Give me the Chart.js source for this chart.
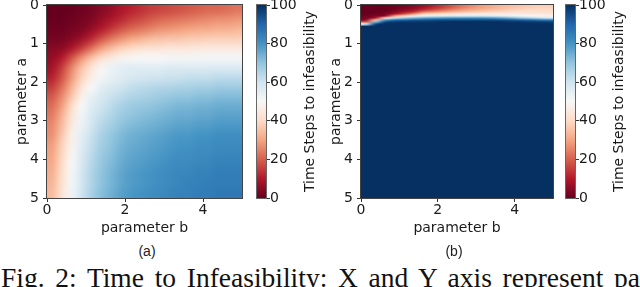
<!DOCTYPE html>
<html>
<head>
<meta charset="utf-8">
<script src="https://cdn.jsdelivr.net/npm/chart.js@4.4.0/dist/chart.umd.min.js"></script>
<style>
  body { margin: 0; background: #fff; width: 640px; height: 287px; overflow: hidden; position: relative; }
  canvas { position: absolute; }
  .sub { position: absolute; top: 243px; width: 40px; text-align: center; font: 14px/17px "Liberation Sans"; color: #222; }
  #cap { position: absolute; left: 1px; top: 264px; width: 639px; font: 27.5px/28px "Liberation Serif"; color: #111;
         text-align: justify; text-align-last: justify; white-space: nowrap; }
</style>
</head>
<body>
<canvas id="heatA" width="250" height="250" style="left:0;top:-10px"></canvas>
<canvas id="barA" width="80" height="250" style="left:250px;top:-10px"></canvas>
<canvas id="heatB" width="247" height="250" style="left:314px;top:-10px"></canvas>
<canvas id="barB" width="80" height="250" style="left:560px;top:-10px"></canvas>
<div class="sub" style="left:127px">(a)</div>
<div class="sub" style="left:434px">(b)</div>
<div id="cap">Fig. 2: Time to Infeasibility: X and Y axis represent pa</div>
<script>
// cell edges along parameter b (columns) and parameter a (rows)
const bEdges = [0, 0.25, 0.5, 0.75, 1, 1.25, 1.5, 1.75, 2, 2.25, 2.5, 2.75, 3, 3.25, 3.5, 3.75, 4, 4.25, 4.5, 4.75, 5];
const aEdgesA = [0, 0.25, 0.5, 0.75, 1, 1.25, 1.5, 1.75, 2, 2.25, 2.5, 2.75, 3, 3.25, 3.5, 3.75, 4, 4.25, 4.5, 4.75, 5];
const aEdgesB = [0, 0.05, 0.1, 0.15, 0.2, 0.25, 0.3, 0.35, 0.4, 0.45, 0.5, 0.55, 5];

// (a) time steps to infeasibility, one row per a-band
const stepsA = [
  [0, 0, 0, 1, 2, 4, 6, 9, 11, 13, 15, 16, 17, 18, 19, 20, 21, 21, 22, 23],
  [0, 0, 1, 2, 3, 6, 9, 12, 15, 17, 19, 21, 22, 23, 24, 25, 26, 27, 27, 28],
  [1, 1, 2, 3, 6, 10, 14, 18, 21, 23, 25, 27, 28, 29, 30, 31, 31, 32, 32, 33],
  [2, 2, 4, 7, 12, 18, 23, 27, 30, 32, 34, 35, 36, 36, 37, 37, 38, 38, 38, 38],
  [4, 5, 9, 15, 22, 29, 34, 38, 40, 42, 43, 43, 44, 44, 44, 45, 45, 45, 45, 45],
  [6, 10, 18, 27, 35, 41, 45, 48, 49, 50, 50, 50, 51, 51, 51, 51, 51, 51, 51, 51],
  [8, 15, 25, 35, 43, 49, 53, 55, 56, 56, 56, 56, 57, 57, 57, 57, 57, 57, 57, 57],
  [11, 18, 28, 38, 46, 51, 54, 56, 58, 59, 60, 60, 61, 61, 62, 62, 62, 63, 63, 63],
  [15, 22, 32, 43, 50, 55, 58, 60, 62, 63, 64, 65, 65, 66, 66, 67, 67, 68, 68, 68],
  [19, 26, 36, 47, 54, 58, 61, 63, 65, 66, 67, 68, 69, 70, 70, 71, 71, 72, 72, 72],
  [22, 29, 40, 50, 56, 60, 63, 66, 68, 69, 70, 71, 72, 73, 73, 74, 74, 75, 75, 75],
  [24, 32, 43, 52, 58, 62, 65, 68, 70, 71, 72, 73, 74, 75, 75, 76, 76, 77, 77, 77],
  [26, 34, 45, 53, 59, 64, 67, 70, 72, 73, 74, 75, 76, 77, 77, 78, 78, 79, 79, 79],
  [27, 36, 47, 55, 61, 66, 69, 72, 74, 75, 76, 77, 78, 79, 79, 80, 80, 81, 81, 81],
  [29, 38, 48, 56, 62, 67, 70, 73, 75, 76, 77, 78, 79, 80, 80, 81, 81, 82, 82, 82],
  [30, 39, 49, 57, 63, 68, 71, 74, 76, 77, 78, 79, 80, 81, 81, 82, 82, 83, 83, 83],
  [31, 40, 50, 58, 64, 69, 72, 75, 77, 78, 79, 80, 81, 82, 82, 83, 83, 84, 84, 84],
  [32, 41, 51, 59, 65, 70, 73, 76, 78, 79, 80, 81, 82, 83, 83, 84, 84, 85, 85, 85],
  [33, 42, 51, 59, 65, 70, 73, 76, 78, 79, 80, 81, 82, 83, 84, 84, 85, 85, 85, 85],
  [34, 43, 52, 60, 66, 71, 74, 77, 79, 80, 81, 82, 83, 84, 84, 85, 85, 86, 86, 86]
];

// (b) time steps to infeasibility, thin bands near a = 0 then the rest
const stepsB = [
  [0, 0, 0, 1, 2, 4, 7, 11, 15, 19, 23, 26, 29, 31, 33, 35, 36, 37, 38, 38],
  [0, 0, 0, 1, 3, 5, 9, 13, 17, 21, 25, 28, 30, 32, 34, 36, 37, 38, 39, 39],
  [0, 0, 0, 2, 5, 8, 14, 18, 22, 26, 29, 31, 33, 35, 36, 38, 39, 40, 40, 40],
  [0, 0, 1, 4, 9, 14, 24, 27, 30, 33, 35, 37, 38, 39, 40, 41, 42, 42, 42, 42],
  [0, 1, 2, 10, 18, 28, 38, 40, 42, 44, 45, 46, 46, 46, 46, 46, 46, 45, 45, 44],
  [1, 3, 6, 30, 40, 48, 54, 56, 57, 58, 58, 59, 59, 58, 56, 54, 52, 50, 49, 48],
  [2, 10, 40, 62, 68, 73, 76, 78, 79, 80, 80, 80, 80, 79, 77, 74, 70, 67, 63, 60],
  [5, 35, 78, 88, 90, 92, 93, 94, 95, 95, 95, 95, 95, 95, 94, 93, 91, 89, 86, 84],
  [20, 72, 96, 98, 99, 99, 99, 99, 100, 100, 100, 100, 100, 100, 100, 99, 99, 98, 98, 97],
  [55, 95, 100, 100, 100, 100, 100, 100, 100, 100, 100, 100, 100, 100, 100, 100, 100, 100, 100, 100],
  [90, 100, 100, 100, 100, 100, 100, 100, 100, 100, 100, 100, 100, 100, 100, 100, 100, 100, 100, 100],
  [100, 100, 100, 100, 100, 100, 100, 100, 100, 100, 100, 100, 100, 100, 100, 100, 100, 100, 100, 100]
];

const xTicks = [0, 2, 4];
const yTicks = [0, 1, 2, 3, 4, 5];
const cbTicks = [0, 20, 40, 60, 80, 100];

// RdBu colormap
const rdbu = ['#67001f', '#b2182b', '#d6604d', '#f4a582', '#fddbc7', '#f7f7f7',
              '#d1e5f0', '#92c5de', '#4393c3', '#2166ac', '#053061'];
const rgb = rdbu.map(h => [1, 3, 5].map(i => parseInt(h.substr(i, 2), 16)));

function colorFor(v) {
  const t = Math.max(0, Math.min(1, v / 100)) * 10;
  const i = Math.min(9, Math.floor(t));
  const f = t - i;
  return rgb[i].map((c0, k) => Math.round(c0 + (rgb[i + 1][k] - c0) * f));
}

const tickFont = { family: 'DejaVu Sans', size: 14, lineHeight: 1 };
const titleFont = { family: 'DejaVu Sans', size: 14, lineHeight: 1.2 };
const ink = '#1a1a1a';

// rows of equal height are drawn as one smoothed image, like imshow with bilinear interpolation
function heatPlugin(aEdges, rows) {
  return {
    id: 'heat',
    beforeDatasetsDraw(chart) {
      const { ctx, chartArea: area, scales: { x, y } } = chart;
      const x0 = x.getPixelForValue(bEdges[0]);
      const x1 = x.getPixelForValue(bEdges[bEdges.length - 1]);
      ctx.save();
      ctx.beginPath();
      ctx.rect(area.left, area.top, area.right - area.left, area.bottom - area.top);
      ctx.clip();
      ctx.imageSmoothingEnabled = true;
      ctx.imageSmoothingQuality = 'high';
      let start = 0;
      while (start < rows.length) {
        const h = aEdges[start + 1] - aEdges[start];
        let end = start + 1;
        while (end < rows.length && Math.abs(aEdges[end + 1] - aEdges[end] - h) < 1e-9) end++;
        const cols = rows[0].length;
        const off = document.createElement('canvas');
        off.width = cols;
        off.height = end - start;
        const octx = off.getContext('2d');
        const img = octx.createImageData(cols, end - start);
        for (let r = start; r < end; r++) {
          rows[r].forEach((v, j) => {
            const c = colorFor(v);
            const p = ((r - start) * cols + j) * 4;
            img.data[p] = c[0]; img.data[p + 1] = c[1]; img.data[p + 2] = c[2]; img.data[p + 3] = 255;
          });
        }
        octx.putImageData(img, 0, 0);
        const y0 = y.getPixelForValue(aEdges[start]);
        const y1 = y.getPixelForValue(aEdges[end]);
        ctx.drawImage(off, 0, 0, cols, end - start, x0, Math.floor(y0), x1 - x0, Math.ceil(y1) - Math.floor(y0));
        start = end;
      }
      ctx.restore();
    },
    afterDraw(chart) {
      const { ctx, chartArea: a } = chart;
      ctx.save();
      ctx.strokeStyle = '#444';
      ctx.lineWidth = 1;
      ctx.strokeRect(a.left - 0.5, a.top - 0.5, a.right - a.left + 1, a.bottom - a.top + 1);
      ctx.restore();
    }
  };
}

function heatChart(id, aEdges, rows) {
  return new Chart(document.getElementById(id), {
    type: 'scatter',
    data: { datasets: [] },
    options: {
      responsive: false,
      animation: false,
      events: [],
      layout: { padding: { left: 0, top: 15, right: 8, bottom: 0 } },
      plugins: { legend: { display: false }, tooltip: { enabled: false } },
      scales: {
        x: {
          type: 'linear', min: 0, max: 5,
          afterBuildTicks: s => { s.ticks = xTicks.map(v => ({ value: v })); },
          afterFit: s => { s.height = 42; s.paddingLeft = 0; s.paddingRight = 0; },
          grid: { drawOnChartArea: false, tickLength: 4, tickColor: '#333' },
          border: { display: false },
          ticks: { font: tickFont, color: ink, padding: 1, maxRotation: 0 },
          title: { display: true, text: 'parameter b', font: titleFont, color: ink, padding: { top: 0, bottom: 3.6 } }
        },
        y: {
          type: 'linear', min: 0, max: 5, reverse: true,
          afterBuildTicks: s => { s.ticks = yTicks.map(v => ({ value: v })); },
          afterFit: s => { s.width = 47; s.paddingTop = 0; s.paddingBottom = 0; },
          grid: { drawOnChartArea: false, tickLength: 4, tickColor: '#333' },
          border: { display: false },
          ticks: { font: tickFont, color: ink, padding: 4 },
          title: { display: true, text: 'parameter a', font: titleFont, color: ink, padding: { top: 14, bottom: 0 } }
        }
      }
    },
    plugins: [heatPlugin(aEdges, rows)]
  });
}

const barPlugin = {
  id: 'colorbar',
  beforeDatasetsDraw(chart) {
    const { ctx, chartArea: a, scales: { y } } = chart;
    const g = ctx.createLinearGradient(0, y.getPixelForValue(0), 0, y.getPixelForValue(100));
    rdbu.forEach((c, i) => g.addColorStop(i / 10, c));
    ctx.fillStyle = g;
    ctx.fillRect(a.left, a.top, a.right - a.left, a.bottom - a.top);
  },
  afterDraw(chart) {
    const { ctx, chartArea: a } = chart;
    ctx.save();
    ctx.strokeStyle = '#666';
    ctx.lineWidth = 1;
    ctx.strokeRect(a.left - 0.5, a.top - 0.5, a.right - a.left + 1, a.bottom - a.top + 1);
    ctx.translate(a.right + 44, (a.top + a.bottom) / 2);
    ctx.rotate(-Math.PI / 2);
    ctx.font = '14px "DejaVu Sans"';
    ctx.fillStyle = ink;
    ctx.textAlign = 'center';
    ctx.textBaseline = 'middle';
    ctx.fillText('Time Steps to infeasibility', 0, 0);
    ctx.restore();
  }
};

function barChart(id, left, axisWidth) {
  return new Chart(document.getElementById(id), {
    type: 'scatter',
    data: { datasets: [] },
    options: {
      responsive: false,
      animation: false,
      events: [],
      layout: { padding: { left: left, top: 15, right: 0, bottom: 42 } },
      plugins: { legend: { display: false }, tooltip: { enabled: false } },
      scales: {
        x: { type: 'linear', display: false },
        y: {
          type: 'linear', position: 'right', min: 0, max: 100,
          afterBuildTicks: s => { s.ticks = cbTicks.map(v => ({ value: v })); },
          afterFit: s => { s.width = axisWidth; s.paddingTop = 0; s.paddingBottom = 0; },
          grid: { drawOnChartArea: false, tickLength: 4, tickColor: '#333' },
          border: { display: false },
          ticks: { font: tickFont, color: ink, padding: 0 }
        }
      }
    },
    plugins: [barPlugin]
  });
}

heatChart('heatA', aEdgesA, stepsA);
barChart('barA', 7, 64);
heatChart('heatB', aEdgesB, stepsB);
barChart('barB', 6, 65);
</script>
</body>
</html>
